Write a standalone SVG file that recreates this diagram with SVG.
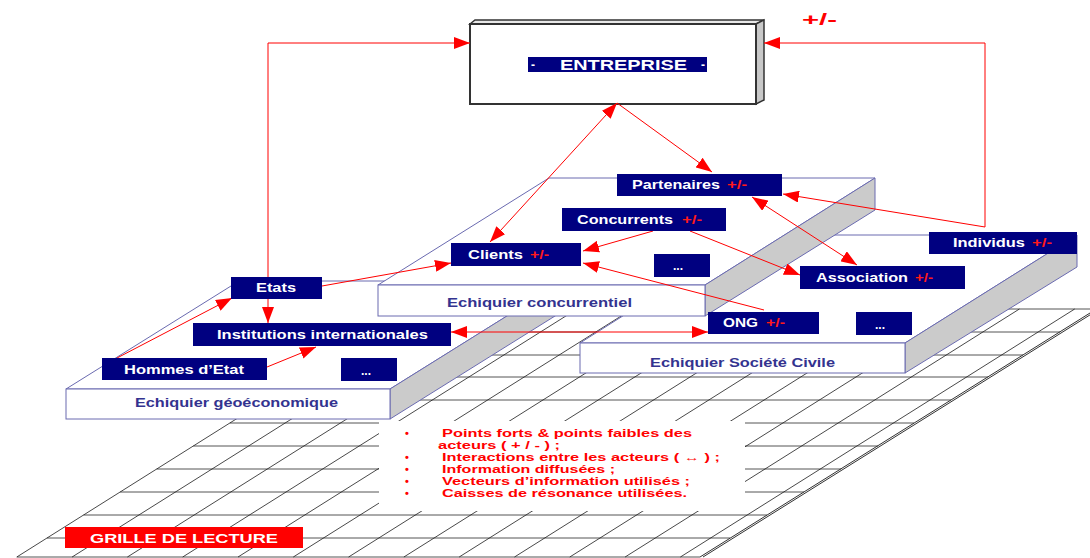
<svg xmlns="http://www.w3.org/2000/svg" width="1090" height="558" viewBox="0 0 1090 558">
<style>
.nb{fill:#000080}
.nt{font-family:"Liberation Sans",Arial,sans-serif;font-weight:bold;font-size:12px;fill:#fff}
.pm{font-family:"Liberation Sans",Arial,sans-serif;font-weight:bold;font-size:12px;fill:#ff1a1a}
.pl{font-family:"Liberation Sans",Arial,sans-serif;font-weight:bold;font-size:12px;fill:#33338f}
.face{fill:#fff;stroke:#6a6ab0;stroke-width:1}
.side{fill:#cbcbcb;stroke:#6a6ab0;stroke-width:1}
.gh{stroke:#555;stroke-width:1}
.gd{stroke:#1a1a1a;stroke-width:0.8}
.cn{stroke:#f00;stroke-width:1;fill:none}
.bt{font-family:"Liberation Sans",Arial,sans-serif;font-weight:bold;font-size:11px;fill:#f00}
</style>
<defs>
<marker id="ah" markerUnits="userSpaceOnUse" markerWidth="16" markerHeight="12" refX="16" refY="6" orient="auto-start-reverse" viewBox="0 0 16 12"><path d="M0,0 L16,6 L0,12 z" fill="#f00"/></marker>
</defs>
<rect width="1090" height="558" fill="#fff"/>
<g id="grid">
<g class="gh">
<line x1="411.1" y1="309" x2="1097" y2="309"/>
<line x1="374.6" y1="332" x2="1060" y2="332"/>
<line x1="338" y1="355" x2="1023" y2="355"/>
<line x1="303" y1="377" x2="988" y2="377"/>
<line x1="266.4" y1="400" x2="951" y2="400"/>
<line x1="229.9" y1="423" x2="914" y2="423"/>
<line x1="193.3" y1="446" x2="878" y2="446"/>
<line x1="156.7" y1="469" x2="841" y2="469"/>
<line x1="120.2" y1="492" x2="804" y2="492"/>
<line x1="83.6" y1="515" x2="767" y2="515"/>
<line x1="47" y1="538" x2="730" y2="538"/>
<line x1="16.8" y1="557" x2="700" y2="557"/>
</g>
<g class="gd">
<line x1="16.8" y1="557" x2="411.1" y2="309"/>
<line x1="72.1" y1="557" x2="466.4" y2="309"/>
<line x1="127.4" y1="557" x2="521.7" y2="309"/>
<line x1="182.7" y1="557" x2="577" y2="309"/>
<line x1="238" y1="557" x2="632.3" y2="309"/>
<line x1="293.3" y1="557" x2="687.6" y2="309"/>
<line x1="348.6" y1="557" x2="742.9" y2="309"/>
<line x1="403.9" y1="557" x2="798.2" y2="309"/>
<line x1="459.2" y1="557" x2="853.5" y2="309"/>
<line x1="514.5" y1="557" x2="908.8" y2="309"/>
<line x1="569.8" y1="557" x2="964.1" y2="309"/>
<line x1="625.1" y1="557" x2="1019.4" y2="309"/>
<line x1="680.4" y1="557" x2="1074.7" y2="309"/>
</g>
<line x1="700" y1="557" x2="1098" y2="308" stroke="#333" stroke-width="1"/>
<line x1="703" y1="557" x2="1101" y2="308" stroke="#333" stroke-width="1"/>
</g>
<g id="reading-grid-text">
<rect x="379" y="421" width="366" height="90" fill="#fff"/>
<g class="bt">
<text x="405" y="437">•</text>
<text x="442" y="437" textLength="250" lengthAdjust="spacingAndGlyphs">Points forts &amp; points faibles des</text>
<text x="438" y="449" textLength="122" lengthAdjust="spacingAndGlyphs">acteurs ( + / - ) ;</text>
<text x="405" y="461">•</text>
<text x="442" y="461" textLength="278" lengthAdjust="spacingAndGlyphs">Interactions entre les acteurs ( ↔ ) ;</text>
<text x="405" y="473">•</text>
<text x="442" y="473" textLength="173" lengthAdjust="spacingAndGlyphs">Information diffusées ;</text>
<text x="405" y="485">•</text>
<text x="442" y="485" textLength="248" lengthAdjust="spacingAndGlyphs">Vecteurs d’information utilisés ;</text>
<text x="405" y="497">•</text>
<text x="442" y="497" textLength="245" lengthAdjust="spacingAndGlyphs">Caisses de résonance utilisées.</text>
</g>
</g>
<g id="grille-label">
<rect x="65" y="527" width="238" height="21" fill="#f00"/>
<text x="90" y="543" textLength="188" lengthAdjust="spacingAndGlyphs" style="font-family:'Liberation Sans',Arial,sans-serif;font-weight:bold;font-size:13px;fill:#fff">GRILLE DE LECTURE</text>
</g>
<g id="echiquier-geoeconomique">
<polygon class="face" points="66,389 239,281 563,281 390,389"/>
<polygon class="side" points="390,389 563,281 563,311 390,419"/>
<rect class="face" x="66" y="389" width="324" height="30"/>
<text class="pl" x="135" y="407" textLength="203" lengthAdjust="spacingAndGlyphs">Echiquier géoéconomique</text>
</g>
<g id="echiquier-societe-civile">
<polygon class="face" points="580,343 751,235 1077,235 905,343"/>
<polygon class="side" points="905,343 1077,235 1077,267 905,373"/>
<rect class="face" x="580" y="343" width="325" height="30"/>
<text class="pl" x="650" y="367" textLength="185" lengthAdjust="spacingAndGlyphs">Echiquier Société Civile</text>
</g>
<g id="echiquier-concurrentiel">
<polygon class="face" points="378,285 549,178 875,178 705,285"/>
<polygon class="side" points="705,285 875,178 875,210 705,316"/>
<rect class="face" x="378" y="285" width="327" height="31"/>
<text class="pl" x="447" y="307" textLength="185" lengthAdjust="spacingAndGlyphs">Echiquier concurrentiel</text>
</g>
<g id="entreprise">
<polygon points="470,24 475,20 764,20 756,24" fill="#e8e8e8" stroke="#333" stroke-width="1.5"/>
<polygon points="756,24 764,20 764,100 756,104" fill="#c8c8c8" stroke="#333" stroke-width="1.5"/>
<rect x="470" y="24" width="286" height="80" fill="#fff" stroke="#333" stroke-width="2"/>
<rect class="nb" x="528" y="57" width="179" height="15"/>
<text class="nt" x="531" y="69" style="font-size:12px">-</text>
<text class="nt" x="560" y="70" textLength="127" lengthAdjust="spacingAndGlyphs" style="font-size:14px">ENTREPRISE</text>
<text class="nt" x="701" y="69" style="font-size:12px">-</text>
</g>
<text id="plus-minus" x="802" y="25" textLength="35" lengthAdjust="spacingAndGlyphs" style="font-family:'Liberation Sans',Arial,sans-serif;font-weight:bold;font-size:17px;fill:#f00">+/-</text>
<g id="connectors" class="cn">
<path d="M268,277 V43 H470" marker-end="url(#ah)"/>
<path d="M268,299 V323" marker-end="url(#ah)"/>
<path d="M985,227 V43 H764" marker-end="url(#ah)"/>
<path d="M985,227 L783,194" marker-end="url(#ah)"/>
<path d="M490,242 L617,103" marker-start="url(#ah)" marker-end="url(#ah)"/>
<path d="M617,103 L712,172" marker-end="url(#ah)"/>
<path d="M322,286 L451,263" marker-end="url(#ah)"/>
<path d="M117,358 L232,298" marker-end="url(#ah)"/>
<path d="M267,367 L316,347" marker-end="url(#ah)"/>
<path d="M451,332 L708,332" marker-start="url(#ah)" marker-end="url(#ah)"/>
<path d="M653,231 L583,251" marker-end="url(#ah)"/>
<path d="M690,231 L800,275" marker-end="url(#ah)"/>
<path d="M752,197 L857,265" marker-start="url(#ah)" marker-end="url(#ah)"/>
<path d="M764,310 L583,263" marker-end="url(#ah)"/>
</g>
<g id="partenaires"><rect class="nb" x="617" y="174" width="165" height="22"/><text class="nt" x="632" y="189" textLength="88" lengthAdjust="spacingAndGlyphs">Partenaires</text><text class="pm" x="727" y="189" textLength="20" lengthAdjust="spacingAndGlyphs">+/-</text></g>
<g id="concurrents"><rect class="nb" x="562" y="208" width="164" height="23"/><text class="nt" x="577" y="224" textLength="96" lengthAdjust="spacingAndGlyphs">Concurrents</text><text class="pm" x="682" y="224" textLength="20" lengthAdjust="spacingAndGlyphs">+/-</text></g>
<g id="clients"><rect class="nb" x="451" y="243" width="130" height="23"/><text class="nt" x="468" y="259" textLength="55" lengthAdjust="spacingAndGlyphs">Clients</text><text class="pm" x="530" y="259" textLength="19" lengthAdjust="spacingAndGlyphs">+/-</text></g>
<g id="etc-concurrentiel"><rect class="nb" x="654" y="254" width="56" height="23"/><text class="nt" x="673" y="270">...</text></g>
<g id="association"><rect class="nb" x="800" y="266" width="165" height="23"/><text class="nt" x="816" y="282" textLength="92" lengthAdjust="spacingAndGlyphs">Association</text><text class="pm" x="915" y="282" textLength="18" lengthAdjust="spacingAndGlyphs">+/-</text></g>
<g id="individus"><rect class="nb" x="929" y="232" width="148" height="22"/><text class="nt" x="953" y="247" textLength="72" lengthAdjust="spacingAndGlyphs">Individus</text><text class="pm" x="1032" y="247" textLength="20" lengthAdjust="spacingAndGlyphs">+/-</text></g>
<g id="ong"><rect class="nb" x="708" y="312" width="111" height="22"/><text class="nt" x="723" y="327" textLength="35" lengthAdjust="spacingAndGlyphs">ONG</text><text class="pm" x="766" y="327" textLength="19" lengthAdjust="spacingAndGlyphs">+/-</text></g>
<g id="etc-societe-civile"><rect class="nb" x="856" y="312" width="56" height="23"/><text class="nt" x="875" y="329">...</text></g>
<g id="etats"><rect class="nb" x="231" y="277" width="91" height="22"/><text class="nt" x="256" y="292" textLength="40" lengthAdjust="spacingAndGlyphs">Etats</text></g>
<g id="institutions-internationales"><rect class="nb" x="193" y="323" width="258" height="23"/><text class="nt" x="217" y="339" textLength="211" lengthAdjust="spacingAndGlyphs">Institutions internationales</text></g>
<g id="hommes-etat"><rect class="nb" x="102" y="358" width="165" height="22"/><text class="nt" x="124" y="374" textLength="120" lengthAdjust="spacingAndGlyphs">Hommes d’Etat</text></g>
<g id="etc-geoeconomique"><rect class="nb" x="341" y="358" width="56" height="23"/><text class="nt" x="361" y="375">...</text></g>
</svg>
